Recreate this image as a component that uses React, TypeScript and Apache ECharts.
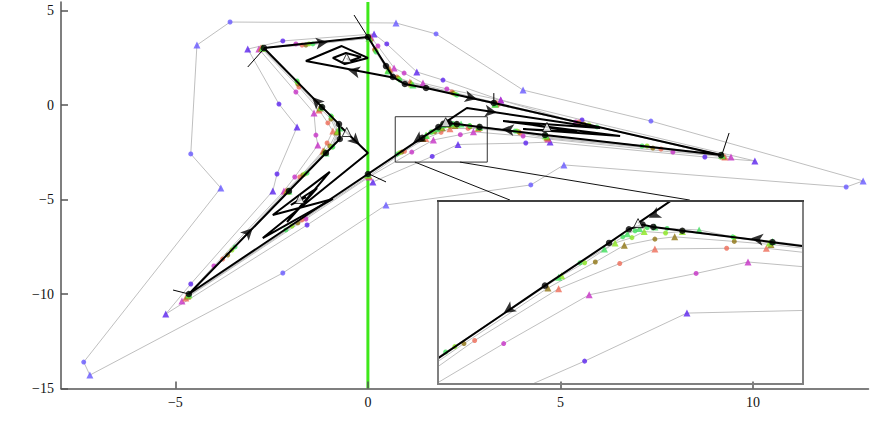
import React, { useEffect, useRef } from "react";
import * as echarts from "echarts";

type V = [number, number, "c" | "t"];
type Pt = [number, number];

const xTicks = [-5, 0, 5, 10];
const yTicks = [-15, -10, -5, 0, 5];

const outerBlue: V[] = [
  [0.47, -5.29, "t"], [4.23, -4.23, "c"], [5.09, -3.17, "t"], [12.42, -4.34, "c"],
  [12.86, -4.02, "t"], [7.35, -0.85, "c"], [4.03, 0.79, "t"], [1.77, 3.76, "c"],
  [0.73, 4.34, "t"], [-3.58, 4.39, "c"], [-4.44, 3.17, "t"], [-4.6, -2.59, "c"],
  [-3.82, -4.39, "t"], [-7.38, -13.6, "c"], [-7.22, -14.29, "t"], [-2.21, -8.89, "c"],
];

const innerBlue: V[] = [
  [8.75, -2.75, "c"], [10.05, -2.96, "t"], [5.56, -0.79, "c"], [3.45, 0.26, "t"], [1.95, 1.32, "c"],
  [1.27, 1.75, "t"], [0.49, 3.23, "c"], [0.16, 3.76, "t"], [-2.21, 3.39, "c"], [-3.12, 2.96, "t"],
  [-2.31, 0.05, "c"], [-1.84, -1.16, "t"], [-2.36, -3.65, "c"], [-2.47, -4.55, "t"], [-4.6, -9.47, "c"],
  [-5.25, -11.06, "t"], [-1.58, -6.35, "c"], [0.13, -4.07, "t"], [1.67, -2.72, "c"], [2.34, -2.09, "t"],
  [4.1, -2.01, "c"], [4.73, -1.96, "t"],
];

const magenta: V[] = [
  [-2.83, 2.96, "t"], [-1.87, 3.23, "c"], [0.08, 3.58, "t"], [0.26, 3.12, "c"], [0.68, 1.96, "t"],
  [0.94, 1.69, "c"], [1.43, 1.16, "t"], [2.05, 0.85, "c"], [3.45, 0.26, "t"], [5.4, -0.9, "c"],
  [9.43, -2.75, "t"], [7.92, -2.49, "c"], [4.68, -1.8, "t"], [4.03, -1.64, "c"], [2.74, -1.42, "t"],
  [2.4, -1.57, "c"], [1.7, -1.85, "t"], [1.14, -2.49, "c"], [0.03, -3.81, "t"], [-1.61, -6.03, "c"],
  [-4.83, -10.37, "t"], [-4.0, -8.52, "c"], [-2.18, -4.55, "t"], [-1.9, -3.81, "c"], [-1.3, -2.12, "t"],
  [-1.35, -1.59, "c"], [-1.4, -0.42, "t"], [-1.87, 0.69, "c"],
];

const salmon: V[] = [
  [-2.78, 3.02, "t"], [-1.71, 3.17, "c"], [0.06, 3.56, "t"], [0.18, 2.96, "c"], [0.57, 1.9, "t"],
  [0.75, 1.48, "c"], [1.09, 1.22, "t"], [2.18, 0.69, "c"], [3.35, 0.11, "t"], [5.48, -0.9, "c"],
  [9.27, -2.75, "t"], [7.61, -2.33, "c"], [4.66, -1.75, "t"], [3.95, -1.48, "c"], [2.86, -1.24, "t"],
  [2.6, -1.24, "c"], [2.13, -1.25, "t"], [1.9, -1.44, "c"], [1.5, -1.77, "t"], [0.95, -2.45, "c"],
  [0.03, -3.76, "t"], [-1.71, -6.08, "c"], [-4.73, -10.21, "t"], [-3.77, -8.15, "c"], [-2.13, -4.55, "t"],
  [-1.77, -3.81, "c"], [-1.17, -2.43, "t"], [-1.06, -2.01, "c"], [-0.91, -1.38, "t"], [-1.04, -0.95, "c"],
  [-1.27, -0.26, "t"], [-1.79, 0.95, "c"],
];

const olive: V[] = [
  [-2.75, 3.02, "t"], [-1.61, 3.17, "c"], [0.05, 3.54, "t"], [0.18, 2.91, "c"], [0.55, 1.85, "t"],
  [0.78, 1.43, "c"], [1.12, 1.16, "t"], [2.21, 0.63, "c"], [3.32, 0.05, "t"], [5.61, -1.01, "c"],
  [9.22, -2.7, "t"], [7.4, -2.28, "c"], [4.65, -1.69, "t"], [3.92, -1.43, "c"], [2.89, -1.19, "t"],
  [2.65, -1.15, "c"], [2.26, -1.09, "t"], [2.13, -1.12, "c"], [1.93, -1.2, "t"], [1.74, -1.42, "c"],
  [1.43, -1.76, "t"], [0.88, -2.49, "c"], [0.0, -3.7, "t"], [-1.82, -6.24, "c"], [-4.68, -10.11, "t"],
  [-3.64, -7.94, "c"], [-2.1, -4.55, "t"], [-1.69, -3.7, "c"], [-1.14, -2.43, "t"], [-0.99, -2.17, "c"],
  [-0.81, -1.43, "t"], [-0.96, -0.74, "c"], [-1.25, -0.16, "t"], [-1.82, 1.11, "c"],
];

const yellowGreen: V[] = [
  [-2.73, 3.02, "t"], [-1.53, 3.23, "c"], [0.03, 3.54, "t"], [0.21, 2.86, "c"], [0.52, 1.85, "t"],
  [0.81, 1.38, "c"], [1.14, 1.11, "t"], [2.26, 0.58, "c"], [3.3, 0.05, "t"], [5.74, -1.06, "c"],
  [9.19, -2.65, "t"], [7.25, -2.17, "c"], [4.62, -1.64, "t"], [3.87, -1.38, "c"], [2.88, -1.17, "t"],
  [2.65, -1.1, "c"], [2.31, -1.02, "t"], [2.2, -1.04, "c"], [2.06, -1.02, "t"], [1.98, -1.1, "c"],
  [1.87, -1.17, "t"], [1.67, -1.43, "c"], [1.52, -1.6, "t"], [0.82, -2.53, "c"], [0.0, -3.7, "t"],
  [-1.97, -6.4, "c"], [-4.65, -10.05, "t"], [-3.53, -7.67, "c"], [-2.08, -4.55, "t"], [-1.64, -3.65, "c"],
  [-1.12, -2.49, "t"], [-0.94, -2.22, "c"], [-0.78, -1.38, "t"], [-0.94, -0.63, "c"], [-1.22, -0.11, "t"],
  [-1.84, 1.22, "c"],
];

const green: V[] = [
  [-2.73, 3.02, "t"], [-1.43, 3.23, "c"], [0.03, 3.54, "t"], [0.21, 2.8, "c"], [0.52, 1.8, "t"],
  [0.83, 1.32, "c"], [1.17, 1.06, "t"], [2.31, 0.53, "c"], [3.3, 0.05, "t"], [5.95, -1.16, "c"],
  [9.19, -2.65, "t"], [7.12, -2.17, "c"], [4.62, -1.59, "t"], [3.82, -1.38, "c"], [2.9, -1.15, "t"],
  [2.64, -1.09, "c"], [2.42, -1.0, "t"], [2.21, -0.98, "c"], [2.13, -0.96, "t"], [2.08, -0.97, "c"],
  [2.03, -0.98, "t"], [2.0, -1.01, "c"], [1.95, -1.05, "t"], [1.92, -1.09, "c"], [1.8, -1.25, "t"],
  [1.64, -1.43, "c"], [1.5, -1.62, "t"], [0.76, -2.6, "c"], [0.0, -3.65, "t"], [-2.13, -6.61, "c"],
  [-4.65, -10.0, "t"], [-3.45, -7.51, "c"], [-2.05, -4.55, "t"], [-1.58, -3.6, "c"], [-1.09, -2.54, "t"],
  [-0.91, -2.22, "c"], [-0.73, -1.22, "t"], [-0.96, -0.58, "c"], [-1.19, -0.11, "t"], [-1.84, 1.27, "c"],
];

const blackLoop: Pt[] = [
  [-2.7, 3.02], [0, 3.6], [0.47, 2.06], [0.65, 1.48], [0.96, 1.11], [1.51, 0.9], [3.27, 0.11],
  [9.17, -2.65], [4.6, -1.59], [2.9, -1.16], [2.31, -1.01], [2.12, -0.96], [2.05, -0.93],
  [1.96, -0.99], [1.83, -1.17], [1.41, -1.73], [0.0, -3.65], [-4.65, -10.0], [-2.05, -4.55],
  [-1.09, -2.54], [-0.73, -1.8], [-0.75, -1.01], [-1.19, -0.11],
];

const swirlTop: Pt[] = [
  [0.65, 1.45], [-1.61, 2.33], [-0.68, 3.12], [0, 2.49], [-0.6, 2.17], [-0.91, 2.49],
  [-0.57, 2.75], [-0.18, 2.54], [-0.47, 2.33], [-0.55, 2.49],
];
const swirlRight: Pt[] = [
  [2.02, -0.91], [2.57, -0.16], [6.03, -1.22], [3.51, -0.85], [6.55, -1.64], [4.03, -1.27],
  [5.43, -1.43], [4.29, -1.06], [4.99, -1.27], [4.65, -1.16],
];
const swirlLeft: Pt[] = [
  [-0.7, -1.16], [0, -2.54], [-2.73, -7.04], [-0.91, -4.97], [-2.47, -5.82], [-0.99, -3.54],
  [-2.1, -6.19], [-1.32, -4.39], [-2.0, -5.29], [-1.61, -4.87], [-1.77, -4.97],
];
const startMarks: Pt[] = [[-0.55, 2.49], [2.02, -0.91], [4.65, -1.16], [-0.55, -1.43], [-1.77, -4.97]];

const normals: [number, number, number, number][] = [
  [-3.12, 2.01, -2.68, 3.02], [-0.36, 4.76, 0, 3.6], [3.27, 0.63, 3.27, 0.11],
  [9.38, -1.48, 9.19, -2.65], [0.03, -3.65, 0.47, -4.07], [-5.06, -9.79, -4.65, -10.0],
];

// arrow position -> a point it heads toward
const mainArrows: [number, number, number, number][] = [
  [-1.04, 3.33, 0, 3.6], [2.83, 0.32, 3.27, 0.11], [3.48, -1.27, 2.9, -1.16],
  [1.17, -2.01, 0, -3.65], [-2.99, -6.51, -2.05, -4.55], [-1.45, 0.42, -2.7, 3.02],
  [-0.52, 1.86, -1.61, 2.33], [3.35, -0.4, 6.03, -1.22], [-0.21, -2.12, 0, -2.54],
];
const insetArrows: [number, number, number, number][] = [
  [2.76, -1.11, 2.31, -1.01], [1.14, -2.09, 0, -3.65], [2.09, -0.84, 2.02, -0.91],
];

const zoomX = [0.71, 3.1];
const zoomY = [-3.02, -0.62];
const connectors: [number, number, number, number][] = [
  [1.22, -3.02, 3.69, -5.03], [2.39, -3.02, 8.36, -5.03],
];
const axisLineX = 0;

const layers = [
  { pts: outerBlue, color: "#6757ff" },
  { pts: innerBlue, color: "#5a22ee" },
  { pts: magenta, color: "#c630c6" },
  { pts: salmon, color: "#ee6c57" },
  { pts: olive, color: "#8e7413" },
  { pts: yellowGreen, color: "#8ae61e" },
  { pts: green, color: "#40e05c" },
];

const fmt = (v: number) => (v < 0 ? "\u2212" + Math.abs(v) : String(v));

export default function App() {
  const ref = useRef<HTMLDivElement>(null);
  useEffect(() => {
    const el = ref.current!;
    const chart = echarts.init(el, undefined, { renderer: "svg" });
    const series: any[] = [];
    const scene = (ai: number, dz: number) => {
      const base = { xAxisIndex: ai, yAxisIndex: ai, silent: true, animation: false };
      for (const L of layers) {
        series.push({
          ...base, type: "line", symbol: "none", z: 2 + dz,
          data: L.pts.concat([L.pts[0]]).map((p) => [p[0], p[1]]),
          lineStyle: { color: "#bfbfbf", width: 1 },
        });
      }
      if (ai === 0) {
        series.push({
          ...base, type: "line", symbol: "none", z: 3,
          data: [[axisLineX, -15], [axisLineX, 5.45]],
          lineStyle: { color: "#3ee81a", width: 3 },
        });
        for (const n of normals) {
          series.push({
            ...base, type: "line", symbol: "none", z: 5,
            data: [[n[0], n[1]], [n[2], n[3]]],
            lineStyle: { color: "#000", width: 1 },
          });
        }
        series.push({
          ...base, type: "line", symbol: "none", z: 5,
          data: [[zoomX[0], zoomY[0]], [zoomX[1], zoomY[0]], [zoomX[1], zoomY[1]], [zoomX[0], zoomY[1]], [zoomX[0], zoomY[0]]],
          lineStyle: { color: "#333", width: 1 },
        });
        for (const c of connectors) {
          series.push({
            ...base, type: "line", symbol: "none", z: 5,
            data: [[c[0], c[1]], [c[2], c[3]]],
            lineStyle: { color: "#111", width: 1 },
          });
        }
      }
      for (const L of layers) {
        series.push({
          ...base, type: "scatter", z: 4 + dz,
          data: L.pts.map((p) => ({
            value: [p[0], p[1]],
            symbol: p[2] === "t" ? "triangle" : "circle",
            symbolSize: p[2] === "t" ? 7 : 5,
          })),
          itemStyle: { color: L.color },
        });
      }
      series.push({
        ...base, type: "line", symbol: "none", z: 5 + dz,
        data: blackLoop.concat([blackLoop[0]]),
        lineStyle: { color: "#000", width: 2 },
      });
      for (const s of [swirlTop, swirlRight, swirlLeft]) {
        series.push({
          ...base, type: "line", symbol: "none", z: 5 + dz,
          data: s, lineStyle: { color: "#000", width: 2 },
        });
      }
      series.push({
        ...base, type: "scatter", z: 6 + dz, symbol: "circle", symbolSize: 6.5,
        data: blackLoop, itemStyle: { color: "#000" },
      });
      series.push({
        ...base, type: "scatter", z: 7 + dz, symbol: "triangle", symbolSize: 9,
        data: startMarks, itemStyle: { color: "#fff", borderColor: "#000", borderWidth: 1 },
      });
      series.push({
        ...base, id: "arrows" + ai, type: "scatter", z: 7 + dz, symbol: "arrow",
        symbolSize: [9, 12], data: [], itemStyle: { color: "#000" },
      });
    };
    scene(0, 0);
    scene(1, 20);

    const axisStyle = { color: "#555", width: 1.5 };
    const label = {
      color: "#111", fontFamily: "'Liberation Serif', 'DejaVu Serif', serif",
      fontSize: 14, margin: 7, formatter: fmt,
    };
    chart.setOption({
      animation: false,
      backgroundColor: "#fff",
      grid: [
        { left: 61, top: 2, width: 807.5, height: 386.5 },
        { left: 438, top: 201, width: 365, height: 183 },
      ],
      xAxis: [
        {
          type: "value", gridIndex: 0, min: -7.97, max: 13, z: 50,
          axisLine: { show: true, onZero: false, lineStyle: axisStyle },
          axisTick: { show: true, inside: true, length: 7, customValues: xTicks, lineStyle: axisStyle },
          axisLabel: { ...label, customValues: xTicks },
          splitLine: { show: false },
        },
        { type: "value", gridIndex: 1, min: zoomX[0], max: zoomX[1], show: false },
      ],
      yAxis: [
        {
          type: "value", gridIndex: 0, min: -15, max: 5.45,
          axisLine: { show: true, onZero: false, lineStyle: axisStyle },
          axisTick: { show: true, inside: true, length: 7, customValues: yTicks, lineStyle: axisStyle },
          axisLabel: { ...label, customValues: yTicks },
          splitLine: { show: false },
        },
        { type: "value", gridIndex: 1, min: zoomY[0], max: zoomY[1], show: false },
      ],
      graphic: [
        { type: "rect", z: 10, shape: { x: 438, y: 201, width: 365, height: 183 }, style: { fill: "#fff" } },
        { type: "rect", z: 60, shape: { x: 438, y: 201, width: 365, height: 183 }, style: { fill: "none", stroke: "#808080", lineWidth: 2 } },
        { type: "line", z: 61, shape: { x1: 437, y1: 201, x2: 804, y2: 201 }, style: { stroke: "#000", lineWidth: 1 } },
      ],
      series,
    });

    const rot = (ai: number, list: [number, number, number, number][]) =>
      list.map((a) => {
        const p1 = chart.convertToPixel({ xAxisIndex: ai, yAxisIndex: ai } as any, [a[0], a[1]]) as number[];
        const p2 = chart.convertToPixel({ xAxisIndex: ai, yAxisIndex: ai } as any, [a[2], a[3]]) as number[];
        const ang = Math.atan2(p2[1] - p1[1], p2[0] - p1[0]);
        return { value: [a[0], a[1]], symbolRotate: ((-Math.PI / 2 - ang) * 180) / Math.PI };
      });
    chart.setOption({
      series: [
        { id: "arrows0", data: rot(0, mainArrows) },
        { id: "arrows1", data: rot(1, insetArrows) },
      ],
    });

    return () => chart.dispose();
  }, []);
  return (
    <div
      ref={ref}
      style={{ position: "fixed", left: 0, top: 0, width: 872, height: 437, background: "#fff" }}
    />
  );
}
